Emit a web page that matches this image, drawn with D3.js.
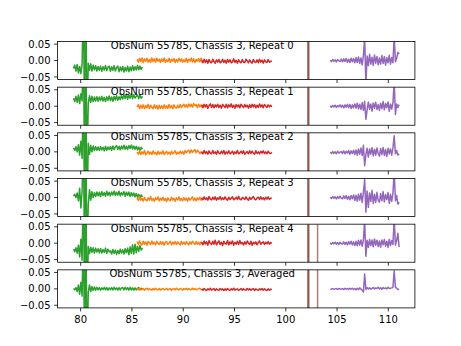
<!DOCTYPE html>
<html><head><meta charset="utf-8">
<script src="https://cdn.jsdelivr.net/npm/d3@7"></script>
<style>body{margin:0;background:#fff}svg{display:block}text{font-family:"DejaVu Sans",sans-serif;font-size:10px;fill:#000}</style>
</head><body><svg id="chart" width="461" height="346"></svg>
<script>
// ---------------- data ----------------
const panelTitles = [
  "ObsNum 55785, Chassis 3, Repeat 0",
  "ObsNum 55785, Chassis 3, Repeat 1",
  "ObsNum 55785, Chassis 3, Repeat 2",
  "ObsNum 55785, Chassis 3, Repeat 3",
  "ObsNum 55785, Chassis 3, Repeat 4",
  "ObsNum 55785, Chassis 3, Averaged"
];
// frequency grid of each band: first sample and sample spacing
const bandStart = [79.30, 85.50, 91.80, 104.33];
const sampleStep = 0.12;
// values in units of 1e-3, one row per panel
const greenValues = [
  [-24,-14,-32,-12,-38,-18,-40,-10,200,-200,200,-200,-8,-30,-10,-32,-14,-28,-16,-32,-18,-30,-17,-33,-19,-29,-15,-31,-20,-17,-33,-19,-30,-16,-32,-21,-17,-34,-20,-31,-18,-35,-21,-32,-17,-34,-20,-31,-16,-30,-19,-29,-15,-28,-17,-27,-20],
  [24,14,30,12,34,8,38,16,200,-200,200,-200,10,32,12,30,14,28,16,29,15,28,17,30,16,27,14,29,18,31,17,28,15,30,19,32,18,29,20,33,22,35,23,37,21,34,24,38,23,35,25,30,34,23,35,24,30],
  [12,4,16,0,22,-10,32,-20,200,-200,200,-200,26,-8,20,0,18,4,16,5,15,4,16,6,14,3,17,5,15,7,16,5,18,7,15,19,8,17,6,18,9,20,8,17,7,19,10,21,9,18,8,17,6,15,5,14,8],
  [4,10,0,14,-10,28,-32,20,200,-200,200,-200,-22,24,-8,18,0,15,3,17,5,16,3,18,6,15,4,19,7,16,5,17,8,20,6,16,7,19,5,15,8,18,4,16,6,17,3,15,5,14,2,12,1,10,0,8,1],
  [-18,-26,-14,-30,-6,-42,12,-52,200,-200,200,-200,-10,-32,-12,-28,-14,-30,-15,-27,-17,-29,-16,-30,-19,-28,-15,-31,-18,-27,-23,-33,-19,-31,-21,-34,-22,-32,-18,-30,-20,-33,-17,-29,-15,-35,-11,-31,-5,-33,-3,-29,-9,-25,-7,-21,-14],
  [1,-3,4,-8,12,-16,20,-22,200,-200,200,-200,-10,12,-8,7,-5,6,-4,5,-3,4,-4,3,-2,5,-3,4,-4,3,-2,4,-3,5,-2,3,-4,4,-3,3,4,-3,5,-2,4,-4,5,-3,3,-4,3,-3,2,4,-3,2,-1]
];
const orangeValues = [
  [4,-5,7,-3,8,-6,5,-2,7,-5,3,-6,8,-3,5,-5,7,-2,4,-6,5,-3,8,-5,2,-4,7,-5,4,-2,6,-6,3,-4,7,-2,5,-5,2,-4,7,-5,4,-2,8,-4,5,-6,3,-2,6,-4,7,-5],
  [-3,5,-7,3,-6,4,-8,2,-5,6,-7,3,-4,-8,4,-6,2,-9,3,-7,1,-8,4,-6,1,-7,5,-5,2,-8,4,-4,-6,3,-5,5,-4,2,6,-3,5,-4,7,-1,6,-3,8,2,5,-4,6,-2,4,-3],
  [-1,-7,3,-8,0,-6,4,-9,-4,2,-7,-1,-8,3,-6,-2,-9,2,-7,-1,-6,3,-8,-2,1,-7,-1,-8,2,-6,-2,3,-7,-1,-6,2,-5,1,-7,4,-3,2,5,-4,6,-2,4,7,-3,5,1,-5,0,-6],
  [-1,-9,2,-8,-2,-11,1,-7,-10,-1,-8,3,-9,-3,-11,-1,-7,2,-10,-2,-8,1,-9,-3,-12,-1,-7,-10,1,-8,-2,-11,-1,-7,2,-9,-3,-10,0,-8,-2,-11,-1,-8,-3,2,-9,-2,-10,-1,-7,1,-8,-2],
  [5,-4,7,-2,-5,6,-3,4,-6,5,1,-4,7,-3,3,-5,6,-1,-4,5,-3,4,-6,3,5,-4,1,6,-5,3,-3,5,-4,4,-1,-5,6,-3,3,-4,5,-1,-5,4,-3,6,1,-4,5,-3,3,-5,4,-1],
  [1,-3,2,-2,-3,1,-4,0,2,-3,1,-2,-4,1,-3,2,-2,-3,1,-4,0,1,-3,-2,2,-3,-1,1,-4,-1,1,-3,2,-2,-3,1,-1,-4,1,-2,2,-3,1,-2,-3,2,-2,1,-3,-1,1,2,-2,-3]
];
const redValues = [
  [1,-7,4,-6,2,-8,3,-5,-7,4,-4,-8,2,-5,3,-7,-4,4,-6,1,-8,3,-5,2,-7,-4,5,-6,1,-8,2,-4,-7,3,-5,-6,4,-1,-7,2,-5,-8,3,-4,-6,2,-7,4,-5,1,-8,2,-4,-6,3,-5,-3,-1],
  [4,-5,6,-2,5,-6,2,7,-4,5,-5,4,-2,6,-4,3,-6,5,1,-4,6,-5,4,-2,7,-4,3,-6,5,-2,4,-5,6,1,-4,5,-2,3,-6,4,-4,6,-2,5,-5,3,-4,7,-2,4,-5,5,1,-4,4,-2,3,-2],
  [1,-6,4,-5,1,-7,3,-4,-6,4,-5,0,-7,3,-4,-6,2,-5,4,-7,0,-5,3,-6,-3,2,-7,0,-5,4,-6,-3,2,-5,3,-7,-3,1,-6,3,-5,2,-4,-7,3,-5,0,-6,2,-4,3,-5,0,-6,2,-4,-5,-1],
  [0,-7,2,-6,-1,-8,3,-5,-7,1,-6,2,-8,-1,-5,3,-7,-1,-6,2,-5,-8,1,-6,-2,2,-7,-4,1,-6,4,-5,-7,0,-2,-6,2,-5,-8,1,-6,-1,3,-5,-7,-1,1,-6,2,-5,-1,-7,1,-5,2,-6,-2,-1],
  [3,-5,7,-2,4,-6,8,0,-4,6,-3,9,-5,2,7,-4,3,-7,6,-1,-3,8,-5,4,-2,7,-6,3,-3,6,-4,8,-2,2,-5,4,-3,7,0,-4,6,-6,3,-2,4,-5,2,7,-3,1,4,-4,3,-2,5,-3,2,-1],
  [0,-4,1,-3,-5,0,-3,2,-4,-1,1,-5,0,-3,-4,1,-3,0,-5,0,-4,1,-3,-4,0,-3,2,-4,-1,0,-5,-2,1,-4,0,-3,-4,1,-3,0,-4,-1,1,-5,0,-3,-4,0,-3,1,-4,0,-3,-5,0,-4,-1,-2]
];
const purpleValues = [
  [1,-3,3,-2,2,-4,3,-1,-3,4,-4,5,-3,6,-5,4,-6,7,-4,6,-7,9,-6,11,-9,8,-13,15,70,-70,14,-16,19,-11,10,-15,17,-8,12,-13,8,-11,15,-9,12,-14,9,-7,16,-11,9,-7,75,-4,7,25,20],
  [1,-3,2,-2,3,-4,2,-2,4,-3,3,-5,4,-3,6,-4,5,-7,4,-5,7,-6,9,-8,6,-10,11,-13,15,-40,-11,13,-9,7,-15,10,-6,12,-10,5,-13,9,-7,14,-11,8,-5,13,-16,7,-9,11,75,-25,7,-4,5],
  [-1,-5,1,-4,0,-6,2,-4,-1,1,-5,3,-6,2,-4,4,-7,3,-5,5,-8,6,-10,9,-7,12,-11,20,-42,-8,11,-16,9,-7,13,-12,8,-10,12,-5,-13,10,-8,13,-11,7,-14,11,-6,9,-10,12,49,-6,4,-10,-6],
  [1,-3,3,-2,2,-4,3,-3,4,-2,-4,5,-3,6,-5,4,-7,6,-4,8,-9,7,-11,10,-8,13,-15,16,55,-45,20,-30,14,-12,22,-18,10,-15,16,-8,-14,12,-10,18,-13,9,-6,15,-18,10,-12,14,80,-10,6,-20,-14],
  [1,-3,2,-2,3,-3,2,-4,3,-1,-3,4,-4,3,-5,5,-3,6,-5,4,-7,6,-8,9,-6,10,-9,11,70,-40,9,-13,11,-7,10,-11,13,-6,9,-10,7,-12,10,-5,11,-9,6,-13,12,-7,8,-4,75,-6,8,30,-12],
  [0,-1,1,-1,0,1,-2,1,0,-1,1,-2,2,-1,1,-2,2,-1,2,-2,1,-3,2,-2,3,-1,-4,-10,45,-2,4,0,3,-1,2,4,0,3,1,5,0,3,-1,4,1,3,0,5,1,2,3,5,55,6,2,-2,-1]
];
const bandValues = [greenValues, orangeValues, redValues, purpleValues];
const bandColors = ["#2ca02c", "#ff7f0e", "#d62728", "#9467bd"];
const markerLines = [[102.2], [102.2], [102.2], [102.2], [102.2, 103.1], [102.2, 103.1]];
const xTicks = [80, 85, 90, 95, 100, 105, 110];
const yTicks = [0.05, 0.00, -0.05];
const xDomain = [77.75, 112.59];
const yDomain = [-0.058, 0.058];
const titleCenterX = 91.85;

// ---------------- drawing ----------------
(function draw() {
  const W = 461, H = 346;
  const mLeft = 57.6, mRight = 414.9, mTop = 41.5, mBottom = 307.9;
  const nRows = 6, hspace = 0.2;
  const ph = (mBottom - mTop) / (nRows + (nRows - 1) * hspace);
  const gap = ph * hspace;

  const svg = d3.select("#chart");
  svg.append("rect").attr("width", W).attr("height", H).attr("fill", "#fff");

  const x = d3.scaleLinear().domain(xDomain).range([mLeft, mRight]);
  const fmt = d3.format(".2f");

  for (let p = 0; p < nRows; p++) {
    const y0 = mTop + p * (ph + gap);
    const y = d3.scaleLinear().domain(yDomain).range([y0 + ph, y0]);
    const g = svg.append("g");
    const clipId = "clip" + p;
    g.append("clipPath").attr("id", clipId).append("rect")
      .attr("x", mLeft).attr("y", y0).attr("width", mRight - mLeft).attr("height", ph);
    const plot = g.append("g").attr("clip-path", `url(#${clipId})`);

    const line = d3.line().x(d => x(d[0])).y(d => y(d[1]));
    const drawBand = b => {
      const pts = bandValues[b][p].map((v, i) => [bandStart[b] + i * sampleStep, v / 1000]);
      plot.append("path").attr("d", line(pts)).attr("fill", "none")
        .attr("stroke", bandColors[b]).attr("stroke-width", 1.5).attr("stroke-linejoin", "round");
    };
    drawBand(0); drawBand(1); drawBand(2);
    markerLines[p].forEach((m, k) => {
      plot.append("line").attr("x1", x(m)).attr("x2", x(m)).attr("y1", y0).attr("y2", y0 + ph)
        .attr("stroke", "#8c564b").attr("stroke-width", k === 0 ? 2.2 : 1.5)
        .attr("stroke-opacity", k === 0 ? 1 : 0.75);
    });
    drawBand(3);

    g.append("rect").attr("x", mLeft).attr("y", y0).attr("width", mRight - mLeft).attr("height", ph)
      .attr("fill", "none").attr("stroke", "#000").attr("stroke-width", 0.8);

    yTicks.forEach(t => {
      g.append("line").attr("x1", mLeft - 3.5).attr("x2", mLeft).attr("y1", y(t)).attr("y2", y(t))
        .attr("stroke", "#000").attr("stroke-width", 0.8);
      g.append("text").attr("x", mLeft - 7).attr("y", y(t) + 3.6).attr("text-anchor", "end")
        .text(fmt(t));
    });
    xTicks.forEach(t => {
      g.append("line").attr("x1", x(t)).attr("x2", x(t)).attr("y1", y0 + ph).attr("y2", y0 + ph + 3.5)
        .attr("stroke", "#000").attr("stroke-width", 0.8);
      if (p === nRows - 1) {
        g.append("text").attr("x", x(t)).attr("y", y0 + ph + 15.2).attr("text-anchor", "middle").text(t);
      }
    });
    g.append("text").attr("x", x(titleCenterX)).attr("y", y0 + 7.4).attr("text-anchor", "middle")
      .text(panelTitles[p]);
  }
})();
</script></body></html>
